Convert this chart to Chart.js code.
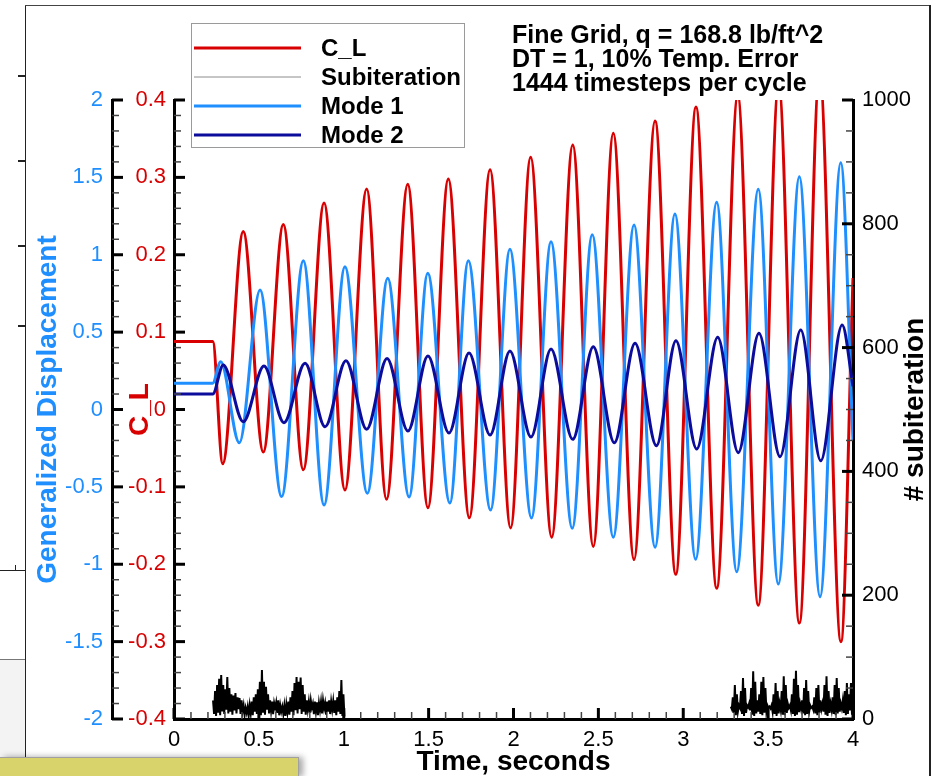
<!DOCTYPE html>
<html><head><meta charset="utf-8">
<script src="https://cdn.jsdelivr.net/npm/chart.js@4.4.1/dist/chart.umd.min.js"></script>
<style>
html,body{margin:0;padding:0;background:#fff;width:933px;height:776px;overflow:hidden;}
#wrap{position:relative;width:933px;height:776px;}
canvas{position:absolute;left:0;top:0;z-index:2;}
.bg{position:absolute;}
</style></head><body>
<div id="wrap">
  <div class="bg" style="left:0;top:659px;width:25px;height:98px;background:#f3f3f3;border-top:1px solid #777;"></div>
  <div class="bg" style="left:0;top:570px;width:25px;height:1px;background:#222;"></div>
  <div class="bg" style="left:15px;top:565px;width:1px;height:5px;background:#222;"></div>
  <div class="bg" style="left:18px;top:75px;width:8px;height:2px;background:#222;"></div>
  <div class="bg" style="left:18px;top:160px;width:8px;height:2px;background:#222;"></div>
  <div class="bg" style="left:18px;top:245px;width:8px;height:2px;background:#222;"></div>
  <div class="bg" style="left:18px;top:325px;width:8px;height:2px;background:#222;"></div>
  <div class="bg" style="left:25px;top:5px;width:1px;height:752px;background:#222;"></div>
  <div class="bg" style="left:25px;top:5px;width:905px;height:1px;background:#444;"></div>
  <div class="bg" style="left:929px;top:5px;width:2px;height:771px;background:#222;"></div>
  <canvas id="c" width="933" height="776"></canvas>
  <div class="bg" style="left:0;top:757px;width:298px;height:19px;background:#d9d36c;border-top:1px solid #a0a0a0;border-right:1px solid #a0a0a0;box-shadow:4px 0 6px rgba(0,0,0,0.35);z-index:5;"></div>
</div>
<script>
// ---------------- data ----------------
const timeTicks = [0, 0.5, 1, 1.5, 2, 2.5, 3, 3.5, 4];
const dispTicks = [-2, -1.5, -1, -0.5, 0, 0.5, 1, 1.5, 2];
const clTicks = [-0.4, -0.3, -0.2, -0.1, 0, 0.1, 0.2, 0.3, 0.4];
const subTicks = [0, 200, 400, 600, 800, 1000];

const clTime  = [0, 0.228, 0.287, 0.408, 0.526, 0.644, 0.762, 0.884, 1.007, 1.135, 1.252, 1.377, 1.496, 1.616, 1.740, 1.862, 1.983, 2.101, 2.225, 2.349, 2.470, 2.588, 2.710, 2.834, 2.956, 3.075, 3.197, 3.321, 3.442, 3.562, 3.684, 3.803, 3.929, 4.0];
const clValue = [0.088, 0.088, -0.070, 0.230, -0.055, 0.239, -0.078, 0.267, -0.104, 0.285, -0.116, 0.291, -0.127, 0.298, -0.140, 0.310, -0.153, 0.326, -0.165, 0.342, -0.177, 0.357, -0.194, 0.373, -0.213, 0.391, -0.231, 0.405, -0.253, 0.420, -0.276, 0.435, -0.300, 0.17];

const mode1Time  = [0, 0.228, 0.275, 0.385, 0.507, 0.634, 0.762, 0.884, 1.007, 1.139, 1.259, 1.385, 1.495, 1.625, 1.734, 1.865, 1.979, 2.106, 2.221, 2.346, 2.464, 2.588, 2.710, 2.834, 2.951, 3.073, 3.197, 3.315, 3.442, 3.560, 3.684, 3.806, 3.928, 4.0];
const mode1Value = [0.17, 0.17, 0.309, -0.215, 0.772, -0.563, 0.962, -0.617, 0.923, -0.542, 0.848, -0.565, 0.880, -0.604, 0.962, -0.649, 1.035, -0.701, 1.084, -0.768, 1.130, -0.826, 1.192, -0.890, 1.263, -0.968, 1.339, -1.048, 1.423, -1.128, 1.504, -1.210, 1.595, -0.2];

const mode2Time  = [0, 0.228, 0.290, 0.408, 0.530, 0.648, 0.772, 0.890, 1.013, 1.135, 1.255, 1.378, 1.496, 1.620, 1.738, 1.862, 1.979, 2.103, 2.221, 2.349, 2.470, 2.594, 2.716, 2.842, 2.957, 3.079, 3.203, 3.324, 3.446, 3.570, 3.692, 3.810, 3.936, 4.0];
const mode2Value = [0.10, 0.10, 0.288, -0.079, 0.281, -0.085, 0.299, -0.111, 0.315, -0.128, 0.330, -0.139, 0.346, -0.152, 0.365, -0.165, 0.378, -0.178, 0.391, -0.193, 0.406, -0.215, 0.428, -0.234, 0.445, -0.255, 0.467, -0.279, 0.492, -0.305, 0.514, -0.331, 0.546, 0.15];

// subiteration counts, sampled every subStep seconds from each start time
const subStep = 0.006;
const subStart1 = 0.23;
const subiter1 = [30,8,45,5,55,10,65,6,71,12,55,8,48,15,68,9,50,12,40,7,38,14,42,9,35,16,34,8,30,12,22,6,18,10,20,5,22,9,28,6,35,12,40,8,48,14,60,6,79,10,60,7,52,15,40,9,30,13,28,8,26,18,27,10,30,6,22,12,20,8,22,5,24,11,28,7,35,12,45,6,58,14,68,9,60,16,67,8,55,12,40,7,30,15,28,10,30,18,25,8,28,12,27,6,26,14,28,9,30,17,26,7,28,12,30,8,28,15,29,10,30,6,35,12,45,8,63,5,40,4];
const subStart2 = 3.28;
const subiter2 = [20,16,35,10,55,6,40,12,22,18,45,8,66,5,50,10,22,19,25,14,50,7,77,5,60,9,30,12,40,8,60,6,68,10,50,12,22,18,20,17,22,12,40,8,58,5,45,9,25,15,45,7,69,6,55,10,25,18,22,14,40,8,65,5,78,7,55,11,25,16,30,9,50,6,63,8,45,12,22,18,20,15,35,9,50,6,55,10,30,16,25,12,55,7,69,5,45,10,25,15,35,8,55,6,66,9,50,12,25,17,30,10,45,6,58,8,40,14,58,7,30];

// ---------------- build chart ----------------
const FONT = "'Liberation Sans', Arial, Helvetica, sans-serif";
const BLUE = '#1f8fff', RED = '#d80000', NAVY = '#0b0b9c';

const pts = (t, v) => t.map((x, i) => ({x, y: v[i]}));
const subPoints = subiter1.map((v, i) => ({x: subStart1 + i * subStep, y: v}))
  .concat([{x: 2.0, y: null}])
  .concat(subiter2.map((v, i) => ({x: subStart2 + i * subStep, y: v})));

const setTicks = arr => scale => { scale.ticks = arr.map(v => ({value: v})); };
const fmt = v => String(Math.round(v * 1000) / 1000);

const axisDecor = {
  id: 'axisDecor',
  afterDraw(chart) {
    const c = chart.ctx;
    const defs = [
      {id: 'x', n: 5, side: 'bottom'},
      {id: 'yDisp', n: 5, side: 'left'},
      {id: 'yCL', n: 5, side: 'left'},
      {id: 'ySub', n: 4, side: 'right'}
    ];
    c.save();
    c.lineCap = 'butt';
    defs.forEach(d => {
      const s = chart.scales[d.id];
      const vals = s.ticks.map(t => t.value);
      const draw = (v, len, w, col) => {
        const p = s.getPixelForValue(v);
        c.strokeStyle = col; c.lineWidth = w;
        c.beginPath();
        if (d.side === 'bottom') { c.moveTo(p, s.top); c.lineTo(p, s.top - len); }
        else if (d.side === 'left') { c.moveTo(s.right, p); c.lineTo(s.right + len, p); }
        else { c.moveTo(s.left, p); c.lineTo(s.left - len, p); }
        c.stroke();
      };
      for (let i = 0; i < vals.length - 1; i++) {
        for (let k = 1; k < d.n; k++) draw(vals[i] + (vals[i + 1] - vals[i]) * k / d.n, 7, 1.5, '#444');
      }
      vals.forEach(v => draw(v, 11, 3, '#000'));
    });
    c.restore();
  }
};

const boxLegend = {
  id: 'boxLegend',
  afterDraw(chart) {
    const o = chart.options.plugins.boxLegend;
    const c = chart.ctx;
    c.save();
    c.fillStyle = '#fff';
    c.fillRect(o.x, o.y, o.w, o.h);
    c.strokeStyle = '#9a9a9a'; c.lineWidth = 1;
    c.strokeRect(o.x + 0.5, o.y + 0.5, o.w, o.h);
    chart.data.datasets.forEach((ds, i) => {
      const y = o.y + o.first + i * o.gap;
      c.strokeStyle = ds.legendColor || ds.borderColor;
      c.lineWidth = ds.legendWidth || ds.borderWidth;
      c.beginPath(); c.moveTo(o.x + 3, y); c.lineTo(o.x + o.lineLen, y); c.stroke();
      c.fillStyle = '#000';
      c.font = 'bold 24px ' + FONT;
      c.textAlign = 'left'; c.textBaseline = 'middle';
      c.fillText(ds.label, o.x + o.textX, y + 1);
    });
    c.restore();
  }
};

const notes = {
  id: 'notes',
  afterDraw(chart) {
    const o = chart.options.plugins.notes;
    const c = chart.ctx;
    c.save();
    c.fillStyle = '#000';
    c.font = 'bold 25px ' + FONT;
    c.textAlign = 'left'; c.textBaseline = 'middle';
    o.lines.forEach((t, i) => c.fillText(t, o.x, o.y + i * o.gap));
    // right axis title, reading upward
    const s = chart.scales.ySub;
    c.translate(o.rightTitleX, (s.top + s.bottom) / 2);
    c.rotate(-Math.PI / 2);
    c.textAlign = 'center';
    c.font = 'bold 28px ' + FONT;
    c.fillText(o.rightTitle, 0, 0);
    c.restore();
  }
};

new Chart(document.getElementById('c'), {
  type: 'line',
  data: {
    datasets: [
      {label: 'C_L', data: pts(clTime, clValue), yAxisID: 'yCL', borderColor: RED, borderWidth: 3,
       cubicInterpolationMode: 'monotone', pointRadius: 0, order: 3},
      {label: 'Subiteration', data: subPoints, yAxisID: 'ySub', borderColor: '#000', borderWidth: 2,
       legendColor: '#8c8c8c', legendWidth: 1, pointRadius: 0, spanGaps: false, tension: 0, order: 2},
      {label: 'Mode 1', data: pts(mode1Time, mode1Value), yAxisID: 'yDisp', borderColor: BLUE, borderWidth: 3,
       cubicInterpolationMode: 'monotone', pointRadius: 0, order: 1},
      {label: 'Mode 2', data: pts(mode2Time, mode2Value), yAxisID: 'yDisp', borderColor: NAVY, borderWidth: 3,
       cubicInterpolationMode: 'monotone', pointRadius: 0, order: 0}
    ]
  },
  options: {
    responsive: false,
    animation: false,
    devicePixelRatio: 1,
    layout: {padding: {top: 100, left: 0, right: 0, bottom: 0}},
    plugins: {
      legend: {display: false},
      tooltip: {enabled: false},
      boxLegend: {x: 191, y: 23, w: 273, h: 124, first: 25, gap: 29, lineLen: 110, textX: 130},
      notes: {x: 512, y: 36, gap: 24,
              lines: ['Fine Grid, q = 168.8 lb/ft^2', 'DT = 1, 10% Temp. Error', '1444 timesteps per cycle'],
              rightTitle: '# subiteration', rightTitleX: 915}
    },
    scales: {
      x: {
        type: 'linear', position: 'bottom', min: 0, max: 4,
        afterBuildTicks: setTicks(timeTicks),
        afterFit: s => { s.height = 57; },
        grid: {display: false, drawTicks: false},
        border: {display: true, color: '#000', width: 3},
        ticks: {color: '#000', font: {family: FONT, size: 22}, padding: 8, callback: fmt, maxRotation: 0, autoSkip: false},
        title: {display: true, text: 'Time, seconds', color: '#000', font: {family: FONT, size: 28, weight: 'bold', lineHeight: 1}, padding: {top: 0, bottom: 0}}
      },
      yDisp: {
        type: 'linear', position: 'left', min: -2, max: 2, weight: 10,
        afterBuildTicks: setTicks(dispTicks),
        afterFit: s => { s.width = 112; },
        grid: {display: false, drawTicks: false},
        border: {display: true, color: '#000', width: 3},
        ticks: {color: BLUE, font: {family: FONT, size: 22}, padding: 9, callback: fmt, autoSkip: false},
        title: {display: true, text: 'Generalized Displacement', color: BLUE, font: {family: FONT, size: 28, weight: 'bold', lineHeight: 1}, padding: {top: 34, bottom: 0}}
      },
      yCL: {
        type: 'linear', position: 'left', min: -0.4, max: 0.4, weight: 0,
        afterBuildTicks: setTicks(clTicks),
        afterFit: s => { s.width = 62; },
        grid: {display: false, drawTicks: false},
        border: {display: true, color: '#000', width: 3},
        ticks: {color: RED, font: {family: FONT, size: 22}, padding: 8, callback: fmt, autoSkip: false},
        title: {display: true, text: 'C_L', color: RED, font: {family: FONT, size: 28, weight: 'bold', lineHeight: 1}, padding: {top: 14, bottom: 0}}
      },
      ySub: {
        type: 'linear', position: 'right', min: 0, max: 1000,
        afterBuildTicks: setTicks(subTicks),
        afterFit: s => { s.width = 80; },
        grid: {display: false, drawTicks: false},
        border: {display: true, color: '#000', width: 3},
        ticks: {color: '#000', font: {family: FONT, size: 22}, padding: 9, callback: fmt, autoSkip: false},
        title: {display: false}
      }
    }
  },
  plugins: [axisDecor, boxLegend, notes]
});
</script>
</body></html>
